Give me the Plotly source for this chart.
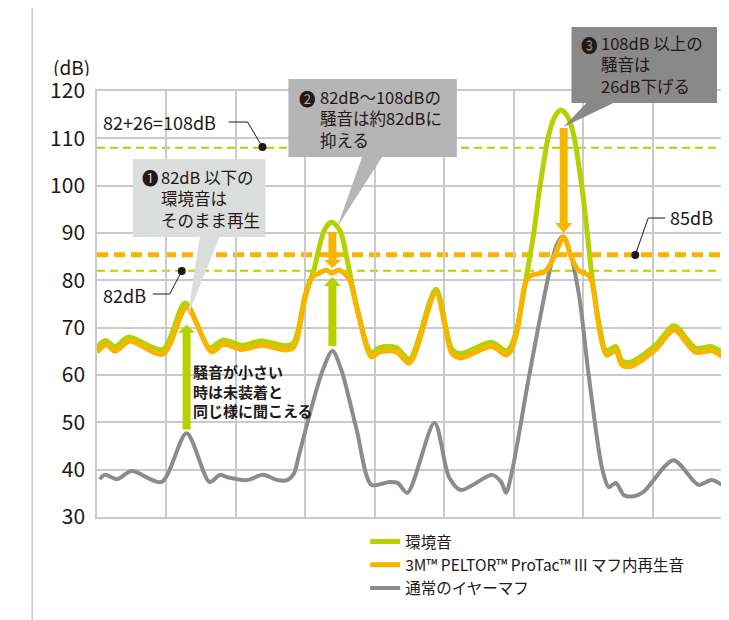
import plotly.graph_objects as go

# ---------------- data ----------------
env_x = [0.0, 0.12, 0.26, 0.45, 0.95, 1.27, 1.62, 1.82, 2.08, 2.37, 2.70, 2.82, 2.88, 3.00, 3.13, 3.18, 3.28, 3.38,
         3.50, 3.60, 3.74, 3.95, 4.07, 4.31, 4.50, 4.88, 5.11, 5.24, 5.68, 5.89, 5.96, 6.05, 6.18, 6.29, 6.38, 6.51,
         6.60, 6.68, 6.77, 6.86, 6.98, 7.06, 7.13, 7.24, 7.33, 7.47, 7.56, 7.68, 8.05, 8.31, 8.62, 8.85, 9.0]
env_y = [65.8, 67.3, 66.0, 68.0, 65.4, 75.2, 65.8, 67.4, 66.3, 67.2, 66.2, 66.6, 68.5, 77.0, 82.5, 85.8, 90.8, 92.3,
         90.5, 84.5, 74.5, 64.7, 65.8, 65.8, 63.4, 78.1, 65.5, 64.5, 66.9, 65.1, 66.0, 70.0, 80.5, 90.0, 100.0, 111.0,
         114.8, 116.0, 114.8, 111.0, 100.0, 90.0, 80.5, 70.0, 65.1, 66.0, 63.0, 62.7, 66.4, 70.4, 65.7, 66.0, 64.8]

protac_x = [0.0, 0.13, 0.26, 0.47, 0.95, 1.29, 1.65, 1.82, 2.08, 2.38, 2.70, 2.82, 2.88, 2.99, 3.10, 3.20, 3.30,
            3.38, 3.48, 3.56, 3.64, 3.76, 3.95, 4.07, 4.31, 4.50, 4.88, 5.11, 5.24, 5.68, 5.89, 5.96, 6.05, 6.17,
            6.24, 6.45, 6.58, 6.72, 6.84, 6.94, 7.08, 7.13, 7.24, 7.34, 7.47, 7.56, 7.68, 8.05, 8.31, 8.62, 8.85, 9.0]
protac_y = [64.8, 66.4, 65.0, 67.2, 64.4, 74.2, 64.9, 66.5, 65.4, 66.3, 65.3, 65.7, 67.5, 75.8, 80.7, 81.5, 82.2,
            81.5, 82.2, 81.5, 80.0, 73.0, 63.8, 64.9, 64.9, 62.5, 77.3, 64.6, 63.6, 66.0, 64.2, 65.1, 69.2, 79.5,
            81.0, 81.8, 84.8, 89.2, 84.5, 82.0, 81.1, 79.6, 69.2, 64.2, 65.1, 62.1, 61.8, 65.5, 69.5, 64.8, 65.1, 63.9]

muff_x = [0.04, 0.11, 0.29, 0.50, 0.93, 1.29, 1.62, 1.77, 1.88, 2.16, 2.39, 2.60, 2.74, 2.84, 2.89, 3.09, 3.25,
          3.39, 3.52, 3.74, 3.95, 4.21, 4.33, 4.47, 4.86, 5.07, 5.24, 5.69, 5.82, 5.89, 5.98, 6.22, 6.51, 6.62,
          6.70, 6.80, 6.94, 7.08, 7.27, 7.37, 7.47, 7.59, 7.73, 7.87, 8.30, 8.66, 8.85, 9.0]
muff_y = [38.0, 38.9, 38.0, 39.7, 37.4, 47.7, 37.4, 38.9, 38.4, 37.8, 38.9, 37.8, 37.8, 39.3, 42.0, 53.2, 61.0,
          65.1, 61.0, 48.4, 36.8, 37.4, 37.2, 35.1, 49.9, 38.4, 35.7, 38.9, 37.4, 35.1, 39.9, 59.6, 81.5, 87.5,
          89.2, 86.5, 77.0, 60.0, 40.5, 36.3, 37.2, 34.6, 34.4, 35.3, 42.0, 36.8, 37.8, 36.8]

series_names = ["環境音", "3M™ PELTOR™ ProTac™ III マフ内再生音", "通常のイヤーマフ"]
y_ticks = [30, 40, 50, 60, 70, 80, 90, 100, 110, 120]
ref_levels = [108, 82]      # green dashed reference levels
limit_level = 85.4          # orange dashed 85dB line

# ---------------- style ----------------
GREEN = "#b5d100"
ORANGE = "#f8b500"
GRAY = "#8c8c8c"
GRID = "#c9caca"
TXT = "#231815"
FONT = "Noto Sans CJK JP"

OFF = 8                      # page body margin of the html page
SW, SH = 729, 620            # screen size
W, H = SW - OFF, SH - OFF    # figure size
PL, PR, PT, PB = 97, 724, 91, 517   # plot area in screen pixels
L, R, T, B = PL - OFF, SW - PR, PT - OFF, SH - PB
PW, PH = PR - PL, PB - PT


def px(xp):
    return (xp - PL) / PW


def py(yp):
    return (PB - yp) / PH


fig = go.Figure()
fig.add_trace(go.Scatter(x=muff_x, y=muff_y, name=series_names[2], mode="lines", legendrank=3,
                         line=dict(color=GRAY, width=4, shape="spline", smoothing=0.8)))
fig.add_trace(go.Scatter(x=env_x, y=env_y, name=series_names[0], mode="lines", legendrank=1,
                         line=dict(color=GREEN, width=5, shape="spline", smoothing=0.8)))
fig.add_trace(go.Scatter(x=protac_x, y=protac_y, name=series_names[1], mode="lines", legendrank=2,
                         line=dict(color=ORANGE, width=5, shape="spline", smoothing=0.8)))

shapes = []
for lv in ref_levels:
    shapes.append(dict(type="line", xref="paper", x0=0, x1=1, yref="y", y0=lv, y1=lv, layer="between",
                       line=dict(color=GREEN, width=2, dash="8px,5px")))
shapes.append(dict(type="line", xref="paper", x0=0, x1=1, yref="y", y0=limit_level, y1=limit_level, layer="between",
                   line=dict(color=ORANGE, width=5, dash="11px,6px")))

# left frame line
shapes.append(dict(type="line", xref="paper", yref="paper", x0=px(32), x1=px(32), y0=py(OFF), y1=py(SH),
                   line=dict(color=GRID, width=1.5)))


def callout(box, tail, color):
    x0, y0, x1, y1 = box
    (ta, tb), (tx, ty) = tail
    pts = [(x0, y0), (x1, y0), (x1, y1), (tb, y1), (tx, ty), (ta, y1), (x0, y1)]
    path = "M" + " L".join(f"{px(a):.5f},{py(b):.5f}" for a, b in pts) + " Z"
    return dict(type="path", xref="paper", yref="paper", path=path, fillcolor=color,
                line=dict(width=0), layer="above")


shapes.append(callout((133, 159, 266, 237), ((200, 220), (188, 316)), "#dcdddd"))
shapes.append(callout((289, 79, 458, 157), ((363, 383), (338, 227)), "#b5b5b6"))
shapes.append(callout((573, 27, 719, 103), ((588, 615), (565, 127)), "#898989"))


def arrow(xc, y_start, y_base, y_tip, color):
    path = (f"M-4,{y_start} L4,{y_start} L4,{y_base} L8.5,{y_base} L0,{y_tip} "
            f"L-8.5,{y_base} L-4,{y_base} Z")
    return dict(type="path", xref="x", yref="y", xsizemode="pixel", xanchor=xc, path=path,
                fillcolor=color, line=dict(width=0), layer="above")


shapes.append(arrow(1.29, 48.5, 68.9, 70.6, GREEN))
shapes.append(arrow(3.39, 66.1, 78.8, 80.7, GREEN))
shapes.append(arrow(3.39, 90.2, 84.3, 82.6, ORANGE))
shapes.append(arrow(6.72, 112.2, 92.1, 90.0, ORANGE))


def leader(pts):
    path = "M" + " L".join(f"{px(a):.5f},{py(b):.5f}" for a, b in pts)
    return dict(type="path", xref="paper", yref="paper", path=path, line=dict(color=TXT, width=1),
                layer="above")


def dot(xp, yp):
    return dict(type="circle", xref="paper", yref="paper", xsizemode="pixel", ysizemode="pixel",
                xanchor=px(xp), yanchor=py(yp), x0=-4, x1=4, y0=-4, y1=4,
                fillcolor=TXT, line=dict(width=0), layer="above")


shapes += [leader([(229, 122), (248, 122), (263, 147)]), dot(263, 147)]
shapes += [leader([(153, 294), (170, 294), (182, 271)]), dot(182, 271)]
shapes += [leader([(667, 218), (650, 218), (637, 255)]), dot(637, 255)]

annos = []


def text(s, xp, yp, size=16, bold=False, height=None, color=TXT):
    d = dict(text=f"<b>{s}</b>" if bold else s, xref="paper", yref="paper", x=px(xp), y=py(yp),
             xanchor="left", yanchor="middle", align="left", showarrow=False, borderpad=0,
             font=dict(family=FONT, size=size, color=color))
    if height:
        d["height"] = height
    annos.append(d)


text("(dB)", 52, 66, 19, height=20)
text("82+26=108dB", 102, 122, 18)
text("82dB", 102, 295, 18)
text("85dB", 671, 217, 18)

BOX_FS = 16.5
text("❶", 141, 178, BOX_FS, height=19)
text("<br>".join(["82dB 以下の", "環境音は", "そのまま再生"]), 160, 198.5, BOX_FS)
text("❷", 299, 98, BOX_FS, height=19)
text("<br>".join(["82dB～108dBの", "騒音は約82dBに", "抑える"]), 320, 118, BOX_FS)
text("❸", 582, 44, BOX_FS, height=19)
text("<br>".join(["108dB 以上の", "騒音は", "26dB下げる"]), 602, 64.5, BOX_FS)
text("<br>".join(["騒音が小さい", "時は未装着と", "同じ様に聞こえる"]), 192, 391, 15, bold=True)

fig.update_layout(
    width=W, height=H, margin=dict(l=L, r=R, t=T, b=B),
    paper_bgcolor="white", plot_bgcolor="white",
    font=dict(family=FONT, color=TXT),
    shapes=shapes, annotations=annos,
    showlegend=True,
    legend=dict(x=px(366), y=py(525), xanchor="left", yanchor="top", orientation="v",
                font=dict(family=FONT, size=15.5, color=TXT), bgcolor="rgba(0,0,0,0)",
                tracegroupgap=0, itemwidth=30),
)
fig.update_xaxes(range=[0, 9], dtick=1, tick0=0, showticklabels=False, showgrid=True, gridcolor=GRID,
                 gridwidth=1.5, zeroline=False, showline=True, linecolor=GRID, linewidth=1.5, mirror=True,
                 ticks="")
fig.update_yaxes(range=[30, 120], tickvals=y_ticks, showgrid=True, gridcolor=GRID, gridwidth=1.5,
                 zeroline=False, showline=True, linecolor=GRID, linewidth=1.5, mirror=True, ticks="",
                 ticklabelstandoff=6, tickfont=dict(family=FONT, size=21, color=TXT))

fig.write_html("out.html")
